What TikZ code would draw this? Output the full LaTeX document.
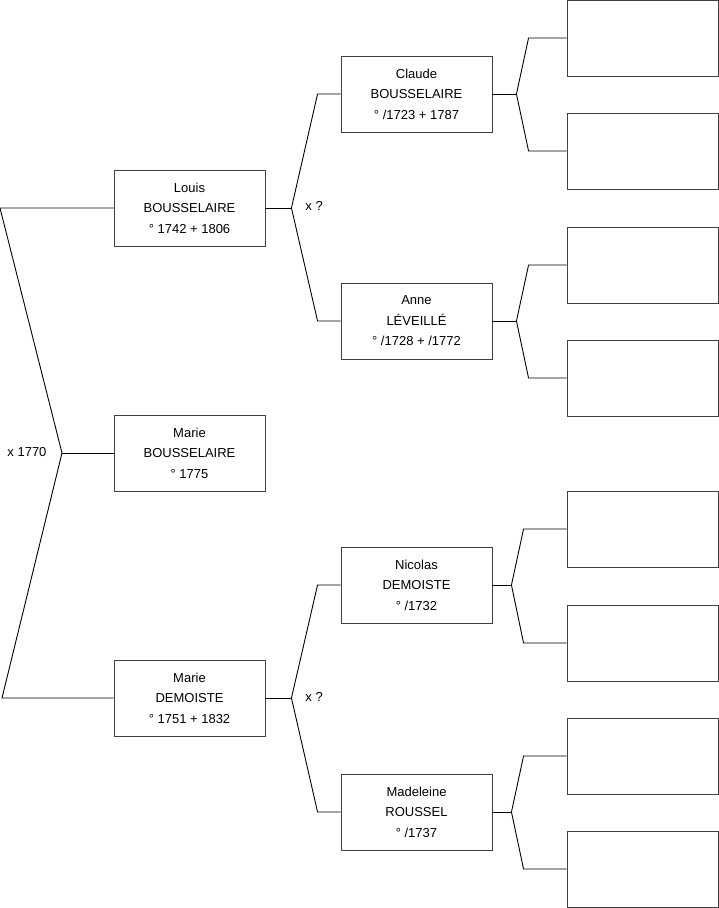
\documentclass[tikz,border=0pt]{standalone}
\usepackage{fontspec}
\setmainfont{Liberation Sans}

\begin{document}
\begin{tikzpicture}[
  x=1pt,y=-1pt,
  person/.style={draw=black!75,line width=0.9pt,minimum width=151pt,minimum height=76pt,
    inner sep=0pt,align=center,font=\fontsize{13}{20.5}\selectfont},
  tag/.style={anchor=west,inner sep=0pt,font=\fontsize{13}{15}\selectfont},
  every path/.style={line width=0.9pt}
]
  \useasboundingbox (0,0) rectangle (719,908);

  % children and parents
  \node[person] (louis) at (189.5,208) {Louis\\BOUSSELAIRE\\° 1742 + 1806};
  \node[person] (marieb) at (189.5,453) {Marie\\BOUSSELAIRE\\° 1775};
  \node[person] (mariedm) at (189.5,698) {Marie\\DEMOISTE\\° 1751 + 1832};

  \node[person] (claude) at (416.5,94) {Claude\\BOUSSELAIRE\\° /1723 + 1787};
  \node[person] (anne) at (416.5,321) {Anne\\LÉVEILLÉ\\° /1728 + /1772};
  \node[person] (nicolas) at (416.5,585) {Nicolas\\DEMOISTE\\° /1732};
  \node[person] (madeleine) at (416.5,812) {Madeleine\\ROUSSEL\\° /1737};

  \foreach \y [count=\i] in {38,151,265,378,529,643,756,869}
    \node[person] (empty\i) at (642.5,\y) {};

  % marriages
  \coordinate (xroot) at (62,453);
  \draw (louis.west) -- (0,208) -- (xroot) -- (2,698) -- (mariedm.west);
  \draw (xroot) -- (marieb.west);
  \node[tag] (wed) at (7,452) {x 1770};

  \draw (louis.east) -- ++(26,0) coordinate (xlouis);
  \draw (claude.west) -- ++(-23,0) -- (xlouis) -- ([xshift=-23pt]anne.west) -- (anne.west);
  \node[tag] (wedlouis) at (305,206) {x ?};

  \draw (mariedm.east) -- ++(26,0) coordinate (xmarie);
  \draw (nicolas.west) -- ++(-23,0) -- (xmarie) -- ([xshift=-23pt]madeleine.west) -- (madeleine.west);
  \node[tag] (wedmarie) at (305,697) {x ?};

  % great-grandparents
  \draw (claude.east) -- ++(24,0) coordinate (xclaude);
  \draw (empty1.west) -- ++(-38,0) -- (xclaude) -- ([xshift=-38pt]empty2.west) -- (empty2.west);
  \draw (anne.east) -- ++(24,0) coordinate (xanne);
  \draw (empty3.west) -- ++(-38,0) -- (xanne) -- ([xshift=-38pt]empty4.west) -- (empty4.west);
  \draw (nicolas.east) -- ++(19,0) coordinate (xnicolas);
  \draw (empty5.west) -- ++(-43,0) -- (xnicolas) -- ([xshift=-43pt]empty6.west) -- (empty6.west);
  \draw (madeleine.east) -- ++(19,0) coordinate (xmadeleine);
  \draw (empty7.west) -- ++(-43,0) -- (xmadeleine) -- ([xshift=-43pt]empty8.west) -- (empty8.west);
\end{tikzpicture}
\end{document}
